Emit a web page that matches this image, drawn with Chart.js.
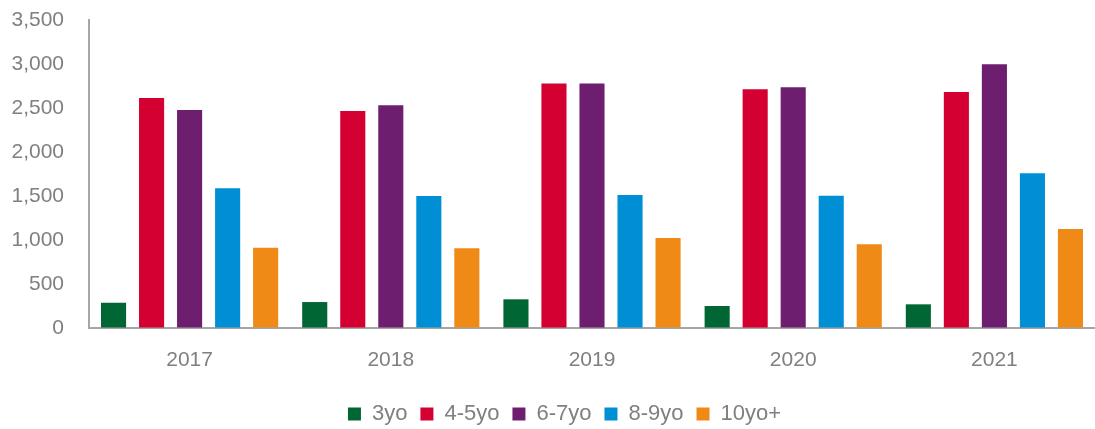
<!DOCTYPE html>
<html>
<head>
<meta charset="utf-8">
<script src="https://cdn.jsdelivr.net/npm/chart.js@4/dist/chart.umd.min.js"></script>
<style>
html,body{margin:0;padding:0;background:#fff;}
#wrap{width:1095px;height:429px;position:relative;}
</style>
</head>
<body>
<div id="wrap"><canvas id="c"></canvas></div>
<script>
const categories = ["2017", "2018", "2019", "2020", "2021"];
const seriesNames = ["3yo", "4-5yo", "6-7yo", "8-9yo", "10yo+"];
const v3yo   = [287, 295, 326, 250, 269];
const v45yo  = [2614, 2466, 2777, 2712, 2682];
const v67yo  = [2477, 2530, 2777, 2735, 2996];
const v89yo  = [1587, 1500, 1511, 1504, 1758];
const v10yo  = [913, 905, 1023, 951, 1125];
const yTicks = [0, 500, 1000, 1500, 2000, 2500, 3000, 3500];

const colors = ["#006633", "#D50032", "#6E1E6E", "#008FD5", "#EF8A17"];
const values = [v3yo, v45yo, v67yo, v89yo, v10yo];

const textColor = "#808080";
const regular = "'Liberation Sans', Arial, sans-serif";

const legendTweak = {
  id: 'legendTweak',
  beforeLayout(chart) {
    const l = chart.legend;
    if (l && !l._patched) {
      const f = l.fit;
      l.fit = function () { f.call(this); this.height -= 6; };
      l._patched = true;
    }
  },
  afterLayout(chart) {
    const l = chart.legend;
    if (l) { l.left += 17; l.right += 17; }
  }
};

new Chart(document.getElementById('c'), {
  type: 'bar',
  data: {
    labels: categories,
    datasets: seriesNames.map((n, i) => ({
      label: n,
      data: values[i],
      backgroundColor: colors[i],
      borderWidth: 0,
      categoryPercentage: 0.945,
      barPercentage: 0.66
    }))
  },
  plugins: [legendTweak],
  options: {
    responsive: true,
    maintainAspectRatio: false,
    animation: false,
    devicePixelRatio: 1,
    layout: { padding: { left: 0, right: 0, top: 20, bottom: 0 } },
    plugins: {
      tooltip: { enabled: false },
      legend: {
        position: 'bottom',
        labels: {
          boxWidth: 13, boxHeight: 13,
          color: textColor,
          font: { family: regular, size: 22 },
          padding: 13
        }
      }
    },
    scales: {
      x: {
        afterFit: (s) => { s.height = 62; },
        grid: { display: false, drawTicks: false },
        border: { display: true, color: '#a6a6a6', width: 2 },
        ticks: { color: textColor, font: { family: regular, size: 21, lineHeight: 1 }, padding: 22 }
      },
      y: {
        min: 0, max: 3500,
        afterBuildTicks: (s) => { s.ticks = yTicks.map(v => ({ value: v })); },
        afterFit: (s) => { s.width = 89; },
        grid: { display: true, drawOnChartArea: false, drawTicks: true, tickLength: 25, color: 'rgba(0,0,0,0)' },
        border: { display: true, color: '#a6a6a6', width: 2 },
        ticks: {
          color: textColor, font: { family: regular, size: 21, lineHeight: 1 }, padding: 0,
          callback: (v) => v.toLocaleString('en-US')
        }
      }
    }
  }
});
</script>
</body>
</html>
